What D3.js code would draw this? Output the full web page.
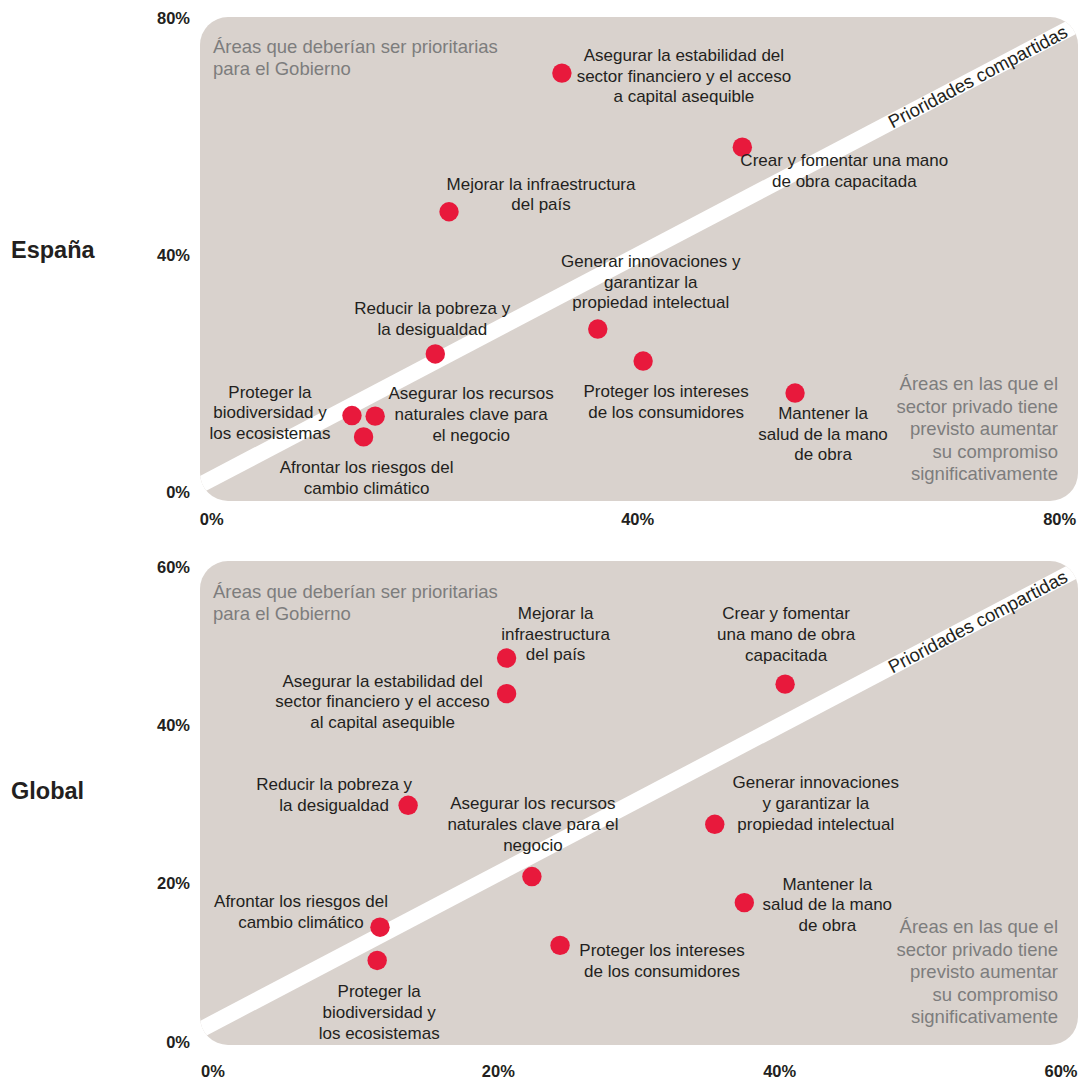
<!DOCTYPE html>
<html><head><meta charset="utf-8">
<script src="https://cdn.jsdelivr.net/npm/d3@7"></script>
<style>body{margin:0;background:#fff} svg{display:block}</style>
</head><body>
<svg id="chart" width="1082" height="1079"></svg>
<script>
// ---------- DATA ----------
const espanaLabels = [
  ["Asegurar la estabilidad del","sector financiero y el acceso","a capital asequible"],
  ["Crear y fomentar una mano","de obra capacitada"],
  ["Mejorar la infraestructura","del país"],
  ["Generar innovaciones y","garantizar la","propiedad intelectual"],
  ["Proteger los intereses","de los consumidores"],
  ["Reducir la pobreza y","la desigualdad"],
  ["Mantener la","salud de la mano","de obra"],
  ["Proteger la","biodiversidad y","los ecosistemas"],
  ["Asegurar los recursos","naturales clave para","el negocio"],
  ["Afrontar los riesgos del","cambio climático"]
];
const espanaX = [33.1, 50.2, 22.4, 36.5, 40.8, 21.1, 55.2, 13.2, 15.4, 14.3];
const espanaY = [70.7, 58.2, 47.3, 27.5, 22.1, 23.3, 16.7, 12.9, 12.8, 9.3];
const espanaTicks = [0, 40, 80];

const globalLabels = [
  ["Mejorar la","infraestructura","del país"],
  ["Asegurar la estabilidad del","sector financiero y el acceso","al capital asequible"],
  ["Crear y fomentar","una mano de obra","capacitada"],
  ["Reducir la pobreza y","la desigualdad"],
  ["Generar innovaciones","y garantizar la","propiedad intelectual"],
  ["Asegurar los recursos","naturales clave para el","negocio"],
  ["Mantener la","salud de la mano","de obra"],
  ["Afrontar los riesgos del","cambio climático"],
  ["Proteger los intereses","de los consumidores"],
  ["Proteger la","biodiversidad y","los ecosistemas"]
];
const globalX = [20.8, 20.8, 40.6, 13.8, 35.6, 22.6, 37.7, 11.8, 24.6, 11.6];
const globalY = [48.5, 44.0, 45.2, 29.9, 27.5, 20.9, 17.6, 14.5, 12.2, 10.3];
const globalTicks = [0, 20, 40, 60];

const panelTitles = ["España", "Global"];
const topLeftNote = ["Áreas que deberían ser prioritarias", "para el Gobierno"];
const bottomRightNote = ["Áreas en las que el", "sector privado tiene", "previsto aumentar", "su compromiso", "significativamente"];
const diagonalLabel = "Prioridades compartidas";

// ---------- LAYOUT (label offsets from dot, px) ----------
const espanaLabelPos = [[122,-18],[102,13],[92,-28],[53,-68],[23,30],[-3,-46],[28,20],[-82,-24],[96,-23],[3,30]];
const globalLabelPos = [[49,-45],[-124,-13],[1,-71],[-74,-21],[101,-42],[1,-73],[83,-19],[-79,-26],[102,5],[2,31]];

const panels = [
  { title: panelTitles[0], xs: espanaX, ys: espanaY, labels: espanaLabels, pos: espanaLabelPos, ticks: espanaTicks,
    max: 80, x0: 200, x1: 1078, y0: 17, y1: 501, xr: [212.7, 1056.7], yr: [492, 18], xLabelY: 519, titleY: 250,
    band: [2.3, 0.935], noteTL: 47, noteBR: 384 },
  { title: panelTitles[1], xs: globalX, ys: globalY, labels: globalLabels, pos: globalLabelPos, ticks: globalTicks,
    max: 60, x0: 200, x1: 1078, y0: 561, y1: 1045, xr: [214, 1058], yr: [1042, 567], xLabelY: 1071.5, titleY: 791,
    band: [2.45, 0.933], noteTL: 592, noteBR: 927 }
];

const svg = d3.select("#chart");
const FONT = "'Liberation Sans', Arial, Helvetica, sans-serif";
const RED = "#e8193c", BG = "#d9d2cd", TXT = "#231f20", GREY = "#7d7d7d";

panels.forEach((p, pi) => {
  const x = d3.scaleLinear().domain([0, p.max]).range(p.xr);
  const y = d3.scaleLinear().domain([0, p.max]).range(p.yr);
  const g = svg.append("g");

  const clipId = "clip" + pi;
  svg.append("clipPath").attr("id", clipId).append("rect")
    .attr("x", p.x0).attr("y", p.y0).attr("width", p.x1 - p.x0).attr("height", p.y1 - p.y0)
    .attr("rx", 28).attr("ry", 28);

  g.append("rect")
    .attr("x", p.x0).attr("y", p.y0).attr("width", p.x1 - p.x0).attr("height", p.y1 - p.y0)
    .attr("rx", 28).attr("ry", 28).attr("fill", BG);

  // diagonal band
  const bx0 = -5, bx1 = p.max * 1.1;
  const [b0, b1] = p.band;
  g.append("line").attr("clip-path", `url(#${clipId})`)
    .attr("x1", x(bx0)).attr("y1", y(b0 + b1 * bx0))
    .attr("x2", x(bx1)).attr("y2", y(b0 + b1 * bx1))
    .attr("stroke", "#fff").attr("stroke-width", 16);

  // diagonal label
  const lx = 1066;
  const ldx = x.invert(lx);
  const ly = y(b0 + b1 * ldx);
  const ang = Math.atan2(y(b0 + b1 * ldx) - y(b0 + b1 * (ldx - 10)), x(ldx) - x(ldx - 10)) * 180 / Math.PI;
  g.append("text").attr("transform", `translate(${lx},${ly}) rotate(${ang})`)
    .attr("text-anchor", "end").attr("dy", "0.35em")
    .attr("font-family", FONT).attr("font-size", 18.5).attr("fill", TXT)
    .text(diagonalLabel);

  // notes
  g.append("text").attr("font-family", FONT).attr("font-size", 18.5).attr("fill", GREY)
    .selectAll("tspan").data(topLeftNote).join("tspan")
    .attr("x", 213).attr("y", (d, i) => p.noteTL + i * 22).attr("dy", "0.35em").text(d => d);
  g.append("text").attr("font-family", FONT).attr("font-size", 18.5).attr("fill", GREY)
    .attr("text-anchor", "end")
    .selectAll("tspan").data(bottomRightNote).join("tspan")
    .attr("x", 1058).attr("y", (d, i) => p.noteBR + i * 22.4).attr("dy", "0.35em").text(d => d);

  // dots
  const idx = d3.range(p.xs.length);
  g.selectAll("circle.dot").data(idx).join("circle").attr("class", "dot")
    .attr("cx", i => x(p.xs[i])).attr("cy", i => y(p.ys[i])).attr("r", 9.7).attr("fill", RED);

  // labels
  idx.forEach(i => {
    const cx = x(p.xs[i]) + p.pos[i][0];
    const cy = y(p.ys[i]) + p.pos[i][1];
    g.append("text").attr("font-family", FONT).attr("font-size", 17).attr("fill", TXT)
      .attr("text-anchor", "middle")
      .selectAll("tspan").data(p.labels[i]).join("tspan")
      .attr("x", cx).attr("y", (d, k) => cy + k * 20.7).attr("dy", "0.35em").text(d => d);
  });

  // axes tick labels
  g.selectAll("text.yt").data(p.ticks).join("text").attr("class", "yt")
    .attr("x", 190).attr("y", d => y(d)).attr("dy", "0.35em").attr("text-anchor", "end")
    .attr("font-family", FONT).attr("font-size", 16.5).attr("font-weight", "bold").attr("fill", TXT)
    .text(d => d + "%");
  g.selectAll("text.xt").data(p.ticks).join("text").attr("class", "xt")
    .attr("x", d => x(d) + (d === 0 ? -1 : 3)).attr("y", p.xLabelY).attr("dy", "0.35em").attr("text-anchor", "middle")
    .attr("font-family", FONT).attr("font-size", 16.5).attr("font-weight", "bold").attr("fill", TXT)
    .text(d => d + "%");

  // title
  g.append("text").attr("x", 11).attr("y", p.titleY).attr("dy", "0.35em")
    .attr("font-family", FONT).attr("font-size", 23.5).attr("font-weight", "bold").attr("fill", TXT)
    .text(p.title);
});
</script>
</body></html>
